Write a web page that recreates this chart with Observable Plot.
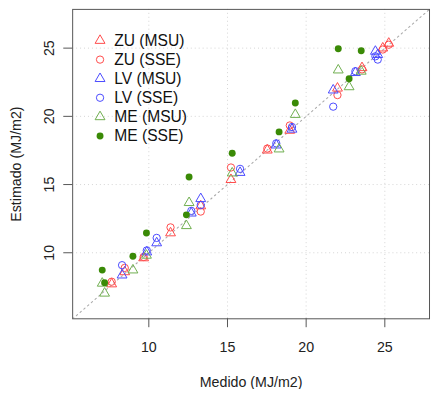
<!DOCTYPE html>
<html>
<head>
<meta charset="utf-8">
<script src="https://cdn.jsdelivr.net/npm/d3@7"></script>
<script src="https://cdn.jsdelivr.net/npm/@observablehq/plot@0.6"></script>
<style>
  html, body { margin: 0; padding: 0; background: #fff; overflow: hidden; }
  #chart svg { display: block; }
</style>
</head>
<body>
<div id="chart"></div>
<script>
// Measured (Medido) and estimated (Estimado) values, MJ/m2
const zuX   = [7.64, 8.47, 9.67, 11.38, 13.3, 15.22, 17.53, 18.96, 21.99, 23.55, 24.87, 25.25];
const zuMSU = [7.71, 8.60, 9.62, 11.45, 13.43, 15.36, 17.52, 18.97, 22.06, 23.56, 25.0, 25.35];
const zuSSE = [7.88, 8.89, 9.69, 11.86, 13.02, 16.25, 17.64, 19.33, 21.56, 23.44, 24.9, 25.25];

const lvX   = [8.30, 9.87, 10.5, 12.7, 13.3, 15.8, 18.1, 19.1, 21.72, 23.13, 24.4, 24.55];
const lvMSU = [8.36, 10.05, 10.72, 12.9, 13.96, 15.88, 17.89, 19.05, 21.92, 23.2, 24.76, 24.52];
const lvSSE = [9.09, 10.17, 11.09, 13.07, 13.5, 16.15, 18.02, 19.22, 20.71, 23.31, 24.4, 24.16];

const meX   = [7.04, 7.19, 8.99, 9.85, 12.39, 12.56, 15.3, 18.28, 19.31, 22.04, 22.73, 23.5];
const meMSU = [7.76, 7.03, 8.73, 9.81, 11.98, 13.67, 15.84, 17.6, 20.13, 23.39, 22.16, 23.3];
const meSSE = [8.73, 7.81, 9.74, 11.45, 12.78, 15.55, 17.29, 18.86, 20.98, 24.96, 22.76, 24.81];

const seriesLabels = ["ZU (MSU)", "ZU (SSE)", "LV (MSU)", "LV (SSE)", "ME (MSU)", "ME (SSE)"];
const xTicks = [10, 15, 20, 25];
const yTicks = [10, 15, 20, 25];
const axisLimits = [6, 27]; // R xlim/ylim, extended 4% like R

const xLabel = "Medido (MJ/m2)";
const yLabel = "Estimado (MJ/m2)";

// styles
const red = "#ff4a4a", blue = "#4a4aff", lightGreen = "#6fae4f", darkGreen = "#3a8a06";
const styles = [
  {symbol: "triangle", stroke: red, fill: "none", r: 3.7},
  {symbol: "circle", stroke: red, fill: "none", r: 3.7},
  {symbol: "triangle", stroke: blue, fill: "none", r: 3.7},
  {symbol: "circle", stroke: blue, fill: "none", r: 3.7},
  {symbol: "triangle", stroke: lightGreen, fill: "none", r: 3.7},
  {symbol: "circle", stroke: "none", fill: darkGreen, r: 3.5}
];

const pairs = [[zuX, zuMSU], [zuX, zuSSE], [lvX, lvMSU], [lvX, lvSSE], [meX, meMSU], [meX, meSSE]];
const seriesData = pairs.map(([xs, ys], k) => xs.map((x, i) => ({x, y: ys[i], s: seriesLabels[k]})));

const ext = (axisLimits[1] - axisLimits[0]) * 0.04;
const domain = [axisLimits[0] - ext, axisLimits[1] + ext];
const identity = domain.map(v => ({v}));

const legendTop = 31.5, legendStep = 19.3;

const marks = [
  Plot.gridX(xTicks, {stroke: "#d4d4d4", strokeOpacity: 1, strokeDasharray: "1,3"}),
  Plot.gridY(yTicks, {stroke: "#d4d4d4", strokeOpacity: 1, strokeDasharray: "1,3"}),
  Plot.line(identity, {x: "v", y: "v", stroke: "#aaaaaa", strokeWidth: 1.1, strokeDasharray: "1.5,3.5", clip: true}),
  ...seriesData.map((data, k) => Plot.dot(data, {x: "x", y: "y", ...styles[k], strokeWidth: 1})),
  Plot.frame({stroke: "#555", strokeWidth: 1}),
  Plot.axisX({ticks: xTicks, tickSize: 9, tickFormat: () => "", stroke: "#555", label: null}),
  Plot.axisY({ticks: yTicks, tickSize: 9, tickFormat: () => "", stroke: "#555", label: null}),
  Plot.text(xTicks, {x: d => d, frameAnchor: "bottom", dy: 29, lineAnchor: "middle", text: d => String(d), fill: "#222", fontSize: 14.4}),
  Plot.text(yTicks, {y: d => d, frameAnchor: "left", dx: -24, rotate: -90, textAnchor: "middle", lineAnchor: "middle", text: d => String(d), fill: "#222", fontSize: 14.4}),
  Plot.text([xLabel], {frameAnchor: "bottom", dy: 64, lineAnchor: "middle", text: d => d, fill: "#222", fontSize: 14.4}),
  Plot.text([yLabel], {frameAnchor: "left", dx: -57, rotate: -90, textAnchor: "middle", lineAnchor: "middle", text: d => d, fill: "#222", fontSize: 14.4}),
  ...seriesLabels.map((label, k) => Plot.dot([0], {frameAnchor: "top-left", dx: 27.7, dy: legendTop + k * legendStep, ...styles[k], strokeWidth: 1})),
  ...seriesLabels.map((label, k) => Plot.text([label], {frameAnchor: "top-left", dx: 42, dy: legendTop + k * legendStep, text: d => d, textAnchor: "start", lineAnchor: "middle", fill: "#111", fontSize: 15.8}))
];

const chart = Plot.plot({
  width: 436,
  height: 394,
  marginLeft: 73,
  marginRight: 2,
  marginTop: 9,
  marginBottom: 72,
  x: {domain},
  y: {domain},
  style: {fontFamily: "'Liberation Sans', Arial, Helvetica, sans-serif", background: "#fff", color: "#222"},
  marks
});
document.getElementById("chart").appendChild(chart);
</script>
</body>
</html>
